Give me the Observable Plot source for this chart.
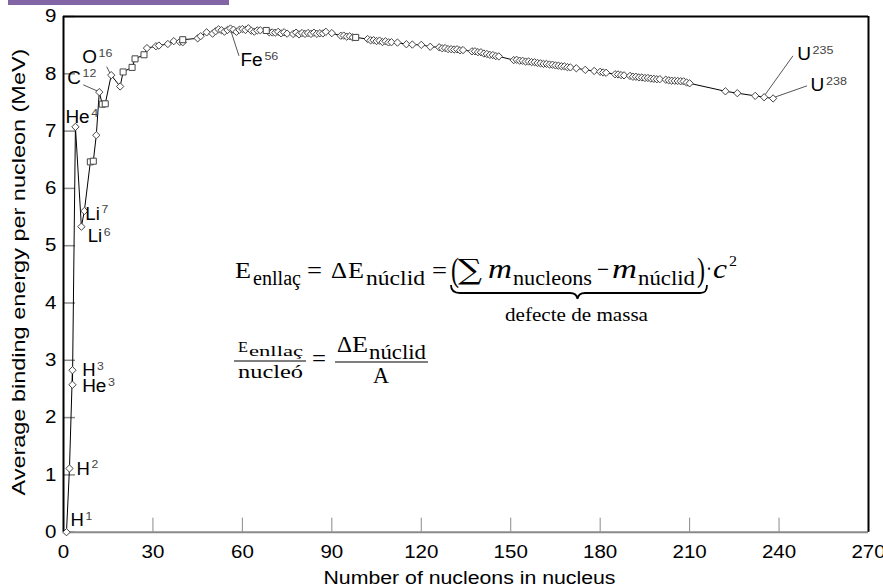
<!DOCTYPE html>
<html>
<head>
<meta charset="utf-8">
<script src="https://cdn.jsdelivr.net/npm/d3@7"></script>
<script src="https://cdn.jsdelivr.net/npm/@observablehq/plot@0.6"></script>
<style>
html, body { margin: 0; padding: 0; background: #fff; }
#wrap { position: relative; width: 883px; height: 587px; overflow: hidden; background: #fff; }
#topbar { position: absolute; left: 8px; top: 0; width: 221px; height: 5px; background: #8165a4; z-index: 2; }
</style>
</head>
<body>
<div id="wrap"><div id="topbar"></div></div>
<script>
// ---------- data ----------
const nuclide = [
  "H1","H2","H3","He3","He4","Li6","Li7","Be9","B10","B11",
  "C12","C13","N14","O16","F19","Ne20","Na23","Mg24","Al27","Si28",
  "P31","S32","Cl35","Cl37","K39","Ca40","Ar40","Sc45","Ti46","Ti48",
  "Cr50","V51","Cr52","Cr53","Fe54","Mn55","Fe56","Fe57","Ni58","Co59",
  "Ni60","Ni61","Ni62","Cu63","Zn64","Cu65","Zn66","Zn68","Ga69","Ge70",
  "Ga71","Ge72","Ge73","Ge74","As75","Se77","Se78","Br79","Se80","Br81",
  "Kr82","Kr83","Kr84","Rb85","Sr86","Sr87","Sr88","Zr90","Nb93","Zr94",
  "Mo95","Mo96","Mo97","Mo98","Ru102","Rh103","Ru104","Pd105","Pd106","Ag107",
  "Pd108","Ag109","Cd110","Cd112","In115","Sn117","Sn120","Sb123","Te126","I127",
  "Te128","Xe129","Te130","Xe131","Xe132","Cs133","Xe134","Ba137","Ba138","La139",
  "Ce140","Pr141","Nd142","Nd143","Nd144","Nd145","Nd146","Eu151","Sm152","Eu153",
  "Sm154","Gd155","Gd156","Gd157","Gd158","Tb159","Gd160","Dy161","Dy162","Dy163",
  "Dy164","Ho165","Er166","Er167","Er168","Tm169","Er170","Yb172","Lu175","Hf178",
  "Hf180","Ta181","W182","Re185","W186","Re187","Os188","Os190","Ir191","Os192",
  "Ir193","Pt194","Pt195","Pt196","Au197","Hg198","Hg199","Hg200","Hg202","Tl203",
  "Pb204","Tl205","Pb206","Pb207","Pb208","Bi209","Po210","Rn222","Ra226","Th232",
  "U235","U238"
];
const massNumber = [
  1,2,3,3,4,6,7,9,10,11,
  12,13,14,16,19,20,23,24,27,28,
  31,32,35,37,39,40,40,45,46,48,
  50,51,52,53,54,55,56,57,58,59,
  60,61,62,63,64,65,66,68,69,70,
  71,72,73,74,75,77,78,79,80,81,
  82,83,84,85,86,87,88,90,93,94,
  95,96,97,98,102,103,104,105,106,107,
  108,109,110,112,115,117,120,123,126,127,
  128,129,130,131,132,133,134,137,138,139,
  140,141,142,143,144,145,146,151,152,153,
  154,155,156,157,158,159,160,161,162,163,
  164,165,166,167,168,169,170,172,175,178,
  180,181,182,185,186,187,188,190,191,192,
  193,194,195,196,197,198,199,200,202,203,
  204,205,206,207,208,209,210,222,226,232,
  235,238
];
const bindingEnergy = [
  0,1.112,2.827,2.573,7.074,5.332,5.606,6.463,6.475,6.928,
  7.680,7.470,7.476,7.976,7.779,8.032,8.112,8.261,8.332,8.448,
  8.481,8.493,8.520,8.570,8.557,8.551,8.595,8.619,8.656,8.723,
  8.701,8.742,8.776,8.760,8.736,8.765,8.790,8.770,8.732,8.768,
  8.781,8.765,8.795,8.752,8.736,8.757,8.760,8.756,8.725,8.722,
  8.718,8.732,8.705,8.725,8.701,8.695,8.718,8.688,8.711,8.696,
  8.711,8.696,8.717,8.697,8.708,8.705,8.733,8.710,8.664,8.667,
  8.649,8.654,8.635,8.635,8.607,8.584,8.587,8.571,8.580,8.554,
  8.567,8.548,8.551,8.545,8.516,8.510,8.505,8.472,8.463,8.446,
  8.449,8.431,8.430,8.424,8.428,8.410,8.414,8.392,8.393,8.378,
  8.376,8.354,8.346,8.330,8.327,8.309,8.304,8.239,8.244,8.229,
  8.227,8.213,8.215,8.204,8.202,8.189,8.183,8.173,8.173,8.162,
  8.159,8.147,8.142,8.132,8.130,8.115,8.112,8.097,8.069,8.049,
  8.035,8.023,8.018,7.992,7.989,7.978,7.973,7.963,7.948,7.948,
  7.938,7.936,7.927,7.927,7.916,7.912,7.905,7.906,7.897,7.886,
  7.880,7.878,7.875,7.870,7.868,7.848,7.834,7.695,7.662,7.615,
  7.591,7.570
];
const squareNuclides = ["Be9","B10","C13","N14","Ne20","Na23","Mg24","Al27","Ar40","Zn68","Mo98"];
const labelledNuclides = ["H1","H2","H3","He3","He4","Li7","Li6","C12","O16","Fe56","U235","U238"];
const leaderNuclides = ["C12","O16","Fe56","U235","U238"];
const xDomain = [0, 270];
const yDomain = [0, 9];
const xTicks = [0, 30, 60, 90, 120, 150, 180, 210, 240, 270];
const yTicks = [0, 1, 2, 3, 4, 5, 6, 7, 8, 9];
const xLabel = "Number of nucleons in nucleus";
const yLabel = "Average binding energy per nucleon (MeV)";

// ---------- layout / style (pixels) ----------
const labelOffset = {H1:[4,-11.7], H2:[7,0.5], H3:[9.7,0.5], He3:[9.7,1.7], He4:[-10,-9],
  Li7:[1,3], Li6:[6.4,10.2], C12:[-32,-14], O16:[-29,-17.3], Fe56:[10,32], U235:[33,-42.4], U238:[37.5,-12.6]};
const leaderOffset = {C12:[-15.5,-6.8], O16:[-4,-8], Fe56:[9,27.8], U235:[29.3,-40.9], U238:[34.4,-12.1]};

const data = nuclide.map((n, i) => ({n, A: massNumber[i], E: bindingEnergy[i], square: squareNuclides.includes(n)}));
const parse = n => { const m = n.match(/^([A-Za-z]+)(\d+)$/); return {sym: m[1], mass: m[2]}; };
const labelRows = data.filter(d => labelledNuclides.includes(d.n));

const W = 883, H = 587;
const plot = Plot.plot({
  width: W, height: H,
  marginLeft: 63, marginRight: 15, marginTop: 16, marginBottom: 55.3,
  style: {fontFamily: "'Liberation Sans', Arial, sans-serif", fontSize: "18px", color: "black", background: "white"},
  x: {domain: xDomain, ticks: xTicks, tickSize: 0, tickPadding: 13.3, tickFormat: d => String(d), label: null},
  y: {domain: yDomain, ticks: yTicks, tickSize: 0, tickPadding: 7, tickFormat: d => String(d), label: null},
  marks: [
    Plot.tickY(yTicks, {y: d => d, stroke: "#8a8a8a", strokeWidth: 1.5, insetRight: 805 - 12}),
    Plot.tickX(xTicks, {x: d => d, stroke: "#8a8a8a", strokeWidth: 1, insetTop: 515.7 - 14}),
    Plot.ruleY([yDomain[0]], {stroke: "#8a8a8a", strokeWidth: 2}),
    Plot.ruleY([yDomain[1]], {stroke: "black", strokeWidth: 2}),
    Plot.ruleX([xDomain[0]], {stroke: "black", strokeWidth: 2}),
    Plot.ruleX([xDomain[1]], {stroke: "black", strokeWidth: 2}),
    Plot.line(data, {x: "A", y: "E", stroke: "black", strokeWidth: 1}),
    Plot.dot(data.filter(d => !d.square), {x: "A", y: "E", symbol: "diamond2", r: 3.3, fill: "white", stroke: "#444", strokeWidth: 1}),
    Plot.dot(data.filter(d => d.square), {x: "A", y: "E", symbol: "square", r: 3.4, fill: "white", stroke: "#444", strokeWidth: 1}),
    ...labelRows.map(d => Plot.text([d], {
      x: "A", y: "E", text: r => parse(r.n).sym + "^" + parse(r.n).mass,
      textAnchor: "start", lineAnchor: "middle", fontSize: 17.5, fill: "black",
      dx: labelOffset[d.n][0], dy: labelOffset[d.n][1]
    })),
    Plot.text([xLabel], {text: d => d, frameAnchor: "bottom", dx: 3.5, dy: 46, fontSize: 18, textAnchor: "middle", lineAnchor: "middle", fill: "black"}),
    Plot.text([yLabel], {text: d => d, frameAnchor: "left", rotate: -90, dx: -44.5, dy: -2.3, fontSize: 18, textAnchor: "middle", lineAnchor: "middle", fill: "black"})
  ]
});
document.getElementById("wrap").appendChild(plot);
const svg = d3.select(plot);

// superscript mass numbers
svg.selectAll("text").each(function() {
  const t = this.textContent;
  if (t.includes("^")) {
    const [s, m] = t.split("^");
    const el = d3.select(this);
    el.text(null);
    el.append("tspan").text(s);
    el.append("tspan").attr("dx", 1.5).attr("dy", -6.5).attr("font-size", 11.5).attr("fill", "#444").text(m);
  }
});

// horizontal stretch of the sans-serif lettering
const exactLen = {[xLabel]: 292, [yLabel]: 447};
svg.selectAll("text").each(function() {
  const L = this.getComputedTextLength();
  if (!L) return;
  const target = exactLen[this.textContent] ?? L * 1.14;
  this.setAttribute("textLength", target);
  this.setAttribute("lengthAdjust", "spacingAndGlyphs");
});

// leader lines from labels to nuclides (through Plot's scales)
const sx = plot.scale("x"), sy = plot.scale("y");
const fx = sx.apply ? v => sx.apply(v) : d3.scaleLinear(sx.domain, sx.range);
const fy = sy.apply ? v => sy.apply(v) : d3.scaleLinear(sy.domain, sy.range);
const ns = "http://www.w3.org/2000/svg";
const lead = document.createElementNS(ns, "g");
const dotG = plot.querySelector('g[aria-label="dot"]');
if (dotG && dotG.parentNode === plot) plot.insertBefore(lead, dotG); else plot.appendChild(lead);
data.filter(d => leaderNuclides.includes(d.n)).forEach(d => {
  const x0 = fx(d.A), y0 = fy(d.E), o = leaderOffset[d.n];
  d3.select(lead).append("line").attr("x1", x0).attr("y1", y0).attr("x2", x0 + o[0]).attr("y2", y0 + o[1])
    .attr("stroke", "#555").attr("stroke-width", 1);
});

// ---------- formula annotation ----------
const fg = svg.append("g").attr("fill", "black").attr("text-anchor", "start");
function ft(str, x, y, size, len, opt = {}) {
  const t = fg.append("text").attr("x", x).attr("y", y).attr("font-size", size).attr("text-anchor", "start")
    .attr("font-family", opt.family || "'Liberation Serif', serif").text(str);
  if (opt.italic) t.attr("font-style", "italic");
  if (len) t.attr("textLength", len).attr("lengthAdjust", "spacingAndGlyphs");
  return t;
}
// row 1
ft("E", 235, 278, 23, 16);
ft("enllaç", 253, 284.5, 20, 48);
ft("=", 307, 278, 23, 15);
ft("Δ", 331, 278, 23, 16);
ft("E", 348, 278, 23, 16);
ft("núclid", 366, 284.5, 20, 59);
ft("=", 432, 278, 23, 15);
ft("(", 451, 281, 34, 8);
ft("∑", 458, 279, 28, 24, {family: "'DejaVu Serif', serif"});
ft("m", 488, 278, 27, 24, {italic: true});
ft("nucleons", 513, 284.5, 20, 79);
ft("−", 597, 277, 23, 12);
ft("m", 612, 278, 27, 25, {italic: true});
ft("núclid", 638, 284.5, 20, 57);
ft(")", 697, 281, 34, 8);
ft("·", 706, 276, 23, 6);
ft("c", 713, 278, 27, 14, {italic: true});
ft("2", 729, 266, 15, 8);
fg.append("path")
  .attr("d", "M451,285 C451,291 454,293 460,293 L570,293 C575,293 577,295 577.5,299 C578,295 580,293 585,293 L700,293 C705,293 707,291 707,285")
  .attr("fill", "none").attr("stroke", "black").attr("stroke-width", 1.8);
ft("defecte de massa", 505, 320.5, 18, 143);
// row 2
ft("E", 238, 352, 15, 10);
ft("enllaç", 249, 356, 15, 54);
fg.append("line").attr("x1", 234).attr("x2", 306).attr("y1", 361).attr("y2", 361).attr("stroke", "black").attr("stroke-width", 1.2);
ft("nucleó", 238, 377.5, 18, 65);
ft("=", 312, 366, 23, 14);
ft("Δ", 337, 352, 23, 15);
ft("E", 352, 352, 23, 16);
ft("núclid", 369, 358.5, 20, 57);
fg.append("line").attr("x1", 335).attr("x2", 428).attr("y1", 362).attr("y2", 362).attr("stroke", "black").attr("stroke-width", 1.2);
ft("A", 373, 383, 23, 16);
</script>
</body>
</html>
